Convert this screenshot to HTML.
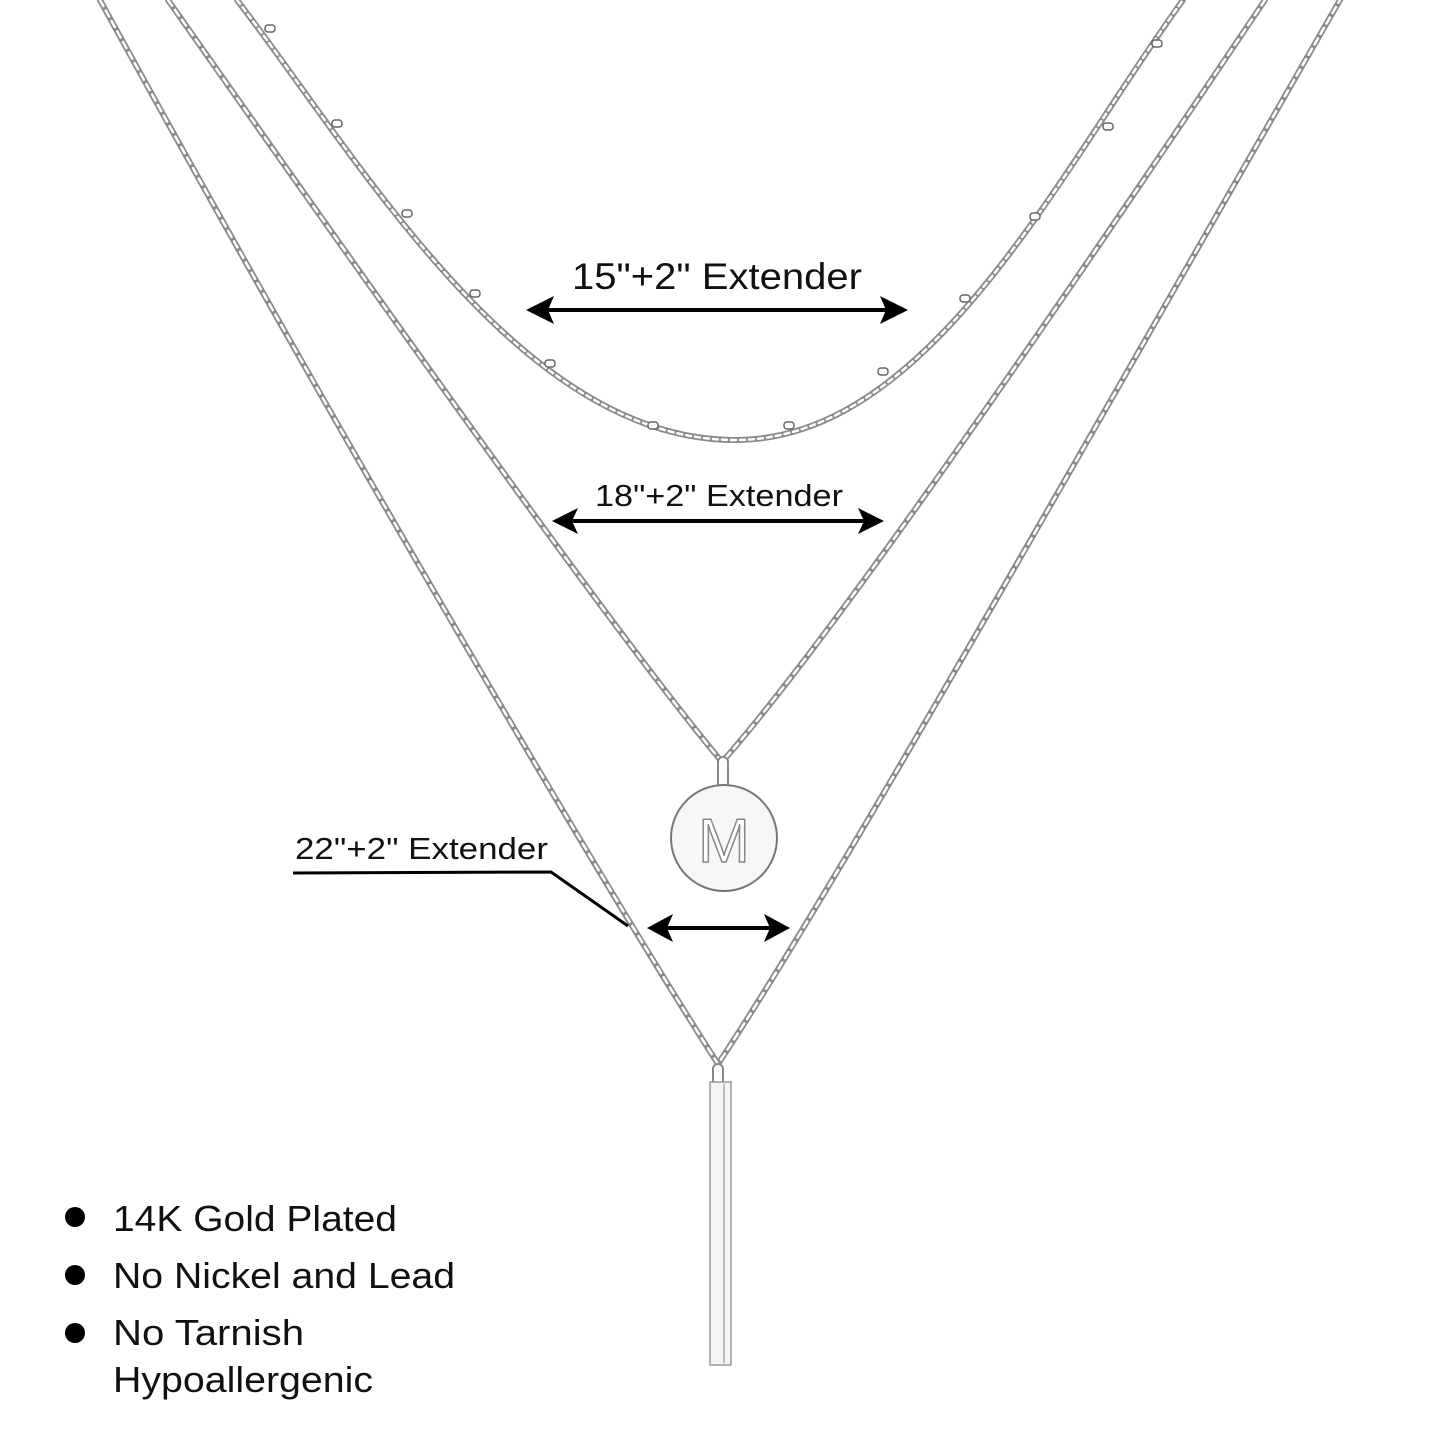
<!DOCTYPE html>
<html><head><style>
html,body{margin:0;padding:0;background:#fff;}
svg{display:block;}
text{font-family:"Liberation Sans",sans-serif;fill:#111;}
</style></head><body>
<svg width="1445" height="1445" viewBox="0 0 1445 1445" xmlns="http://www.w3.org/2000/svg">
<g fill="none" stroke-linecap="round">
<path d="M237,0 C360,160 520,440 735,440 C930,440 1060,170 1183,0" stroke="#8a8a8a" stroke-width="6"/>
<path d="M237,0 C360,160 520,440 735,440 C930,440 1060,170 1183,0" stroke="#fff" stroke-width="2.5" stroke-dasharray="5 4"/>
<path d="M168,0 C400,330 620,640 722,762 C830,640 1050,320 1265,0" stroke="#8a8a8a" stroke-width="6"/>
<path d="M168,0 C400,330 620,640 722,762 C830,640 1050,320 1265,0" stroke="#fff" stroke-width="2.5" stroke-dasharray="7 5"/>
<path d="M100,0 C330,420 600,880 718,1064 C840,880 1110,400 1340,0" stroke="#8a8a8a" stroke-width="6"/>
<path d="M100,0 C330,420 600,880 718,1064 C840,880 1110,400 1340,0" stroke="#fff" stroke-width="2.5" stroke-dasharray="7 5"/>
</g>
<g fill="#fff" stroke="#666" stroke-width="1.5">
<rect x="265" y="25" width="10" height="7" rx="3"/>
<rect x="332" y="120" width="10" height="7" rx="3"/>
<rect x="402" y="210" width="10" height="7" rx="3"/>
<rect x="470" y="290" width="10" height="7" rx="3"/>
<rect x="545" y="360" width="10" height="7" rx="3"/>
<rect x="648" y="422" width="10" height="7" rx="3"/>
<rect x="784" y="422" width="10" height="7" rx="3"/>
<rect x="878" y="368" width="10" height="7" rx="3"/>
<rect x="960" y="295" width="10" height="7" rx="3"/>
<rect x="1030" y="213" width="10" height="7" rx="3"/>
<rect x="1103" y="123" width="10" height="7" rx="3"/>
<rect x="1152" y="40" width="10" height="7" rx="3"/>
</g>
<rect x="718" y="757" width="10" height="32" rx="5" fill="#fff" stroke="#888" stroke-width="2"/>
<circle cx="724" cy="838" r="53" fill="#f7f7f7" stroke="#777" stroke-width="2"/>
<text x="724" y="862" text-anchor="middle" font-size="62" style="fill:#fff;stroke:#888;stroke-width:1.5">M</text>
<rect x="713" y="1064" width="10" height="22" rx="5" fill="#fff" stroke="#888" stroke-width="2"/>
<rect x="710" y="1082" width="21" height="283" fill="#f4f4f4" stroke="#999" stroke-width="1.5"/>
<line x1="724" y1="1084" x2="724" y2="1363" stroke="#bbb" stroke-width="2"/>
<g stroke="#000" stroke-width="4">
<line x1="545" y1="310" x2="890" y2="310"/>
<line x1="570" y1="521" x2="866" y2="521"/>
<line x1="665" y1="928" x2="772" y2="928"/>
</g>
<g fill="#000">
<polygon points="526,310 554,296 548,310 554,324"/>
<polygon points="908,310 880,296 886,310 880,324"/>
<polygon points="552,521 578,508 572,521 578,534"/>
<polygon points="884,521 858,508 864,521 858,534"/>
<polygon points="647,928 673,914 667,928 673,942"/>
<polygon points="790,928 764,914 770,928 764,942"/>
</g>
<polyline points="293,873 551,872 628,926" fill="none" stroke="#000" stroke-width="3"/>
<text x="572" y="289" font-size="37" textLength="290" lengthAdjust="spacingAndGlyphs">15"+2" Extender</text>
<text x="595" y="506" font-size="31" textLength="248" lengthAdjust="spacingAndGlyphs">18"+2" Extender</text>
<text x="295" y="859" font-size="31" textLength="253" lengthAdjust="spacingAndGlyphs">22"+2" Extender</text>
<g fill="#000">
<circle cx="75" cy="1217" r="10"/>
<circle cx="75" cy="1275" r="10"/>
<circle cx="75" cy="1333" r="10"/>
</g>
<text x="113" y="1231" font-size="36" textLength="284" lengthAdjust="spacingAndGlyphs">14K Gold Plated</text>
<text x="113" y="1288" font-size="36" textLength="342" lengthAdjust="spacingAndGlyphs">No Nickel and Lead</text>
<text x="113" y="1345" font-size="36" textLength="191" lengthAdjust="spacingAndGlyphs">No Tarnish</text>
<text x="113" y="1392" font-size="36" textLength="260" lengthAdjust="spacingAndGlyphs">Hypoallergenic</text>
</svg>
</body></html>
